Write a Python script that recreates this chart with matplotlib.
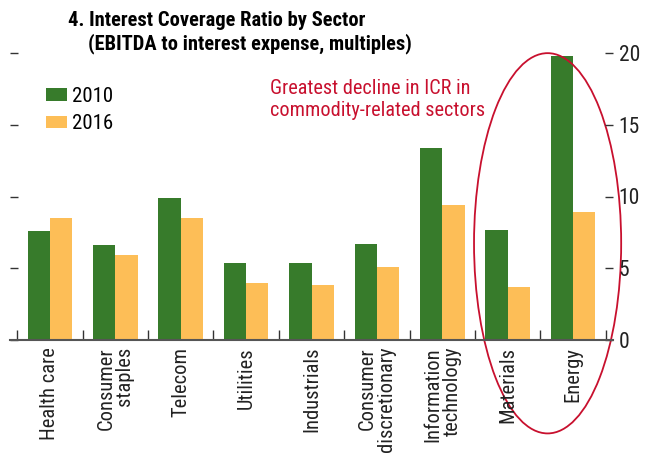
import matplotlib
matplotlib.use("Agg")
import matplotlib.pyplot as plt
from matplotlib.patches import Ellipse
from matplotlib import font_manager
import numpy as np

categories = ["Health care", "Consumer\nstaples", "Telecom", "Utilities", "Industrials",
              "Consumer\ndiscretionary", "Information\ntechnology", "Materials", "Energy"]
icr_2010 = [7.6, 6.6, 9.9, 5.4, 5.4, 6.7, 13.4, 7.7, 19.8]
icr_2016 = [8.5, 5.9, 8.5, 4.0, 3.8, 5.1, 9.4, 3.7, 8.9]
series_labels = ["2010", "2016"]
yticks = [0, 5, 10, 15, 20]
title1 = "4. Interest Coverage Ratio by Sector"
title2 = "(EBITDA to interest expense, multiples)"
note = "Greatest decline in ICR in\ncommodity-related sectors"

avail = {f.name for f in font_manager.fontManager.ttflist}
fam = [f for f in ["Liberation Sans Narrow", "Roboto Condensed", "Liberation Sans", "DejaVu Sans"] if f in avail]
plt.rcParams['font.family'] = fam

GREEN = "#377B2B"
ORANGE = "#FDBE57"
RED = "#C8102E"
W, H = 648, 455

fig = plt.figure(figsize=(6.48, 4.55), dpi=100)
ax = fig.add_axes([10 / W, 1 - 340 / H, (613 - 10) / W, (340 - 53) / H])

x = np.arange(len(categories))
bw = 0.34
ax.bar(x - bw / 2, icr_2010, width=bw, color=GREEN, label=series_labels[0])
ax.bar(x + bw / 2, icr_2016, width=bw, color=ORANGE, label=series_labels[1])

ax.set_xlim(-0.61, len(categories) - 1 + 0.61)
ax.set_ylim(0, 20)
for s in ["top", "left", "right"]:
    ax.spines[s].set_visible(False)
ax.spines["bottom"].set_color("#555555")
ax.spines["bottom"].set_linewidth(1.5)

ax.set_xticks(x)
ax.set_xticklabels(categories, rotation=90, ha="center", va="top",
                   multialignment="right", fontsize=14.8, color="#222222",
                   linespacing=1.0)
ax.tick_params(axis="x", which="major", length=0, pad=5)
ax.set_xticks(np.arange(-0.5, len(categories)), minor=True)
ax.tick_params(axis="x", which="minor", direction="in", length=7, width=1, color="#333333")

ax.set_yticks(yticks)
ax.tick_params(axis="y", which="major", left=True, right=True, labelleft=False,
               labelright=True, direction="in", length=6, width=1, color="#333333",
               labelsize=15.5, labelcolor="#222222", pad=4)

fig.text(68 / W, 1 - 20 / H, title1, fontsize=14.8, fontweight="bold", va="center", ha="left")
fig.text(88 / W, 1 - 44 / H, title2, fontsize=14.8, fontweight="bold", va="center", ha="left")

fig.text(270 / W, 1 - 99 / H, note, fontsize=14.6, color=RED, va="center", ha="left",
         linespacing=1.2)

leg = ax.legend(loc="upper left", bbox_to_anchor=(46 / W, 1 - 87 / H), bbox_transform=fig.transFigure,
                frameon=False, fontsize=15, handlelength=1.0, handleheight=0.55,
                handletextpad=0.25, labelspacing=0.4, borderpad=0, borderaxespad=0)

ell = Ellipse((7.61, 6.74), width=2.25, height=26.5, fill=False, edgecolor=RED,
              linewidth=1.3, clip_on=False)
ax.add_patch(ell)

fig.savefig("out.png", dpi=100)
